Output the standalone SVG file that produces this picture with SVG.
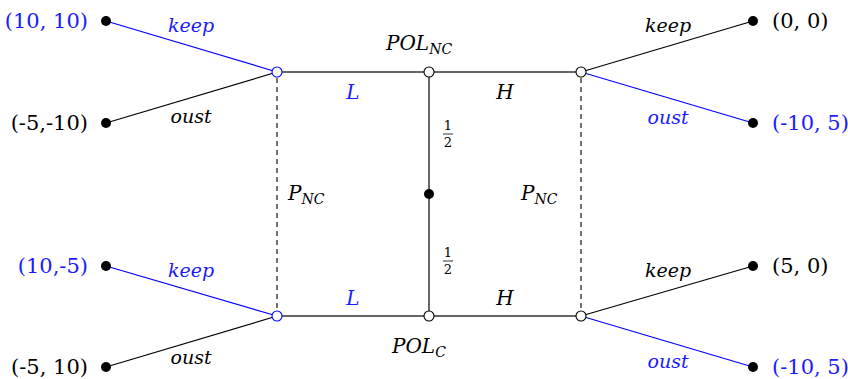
<svg xmlns="http://www.w3.org/2000/svg" width="848" height="379" viewBox="0 0 848 379">
<style>
.e{stroke:#000;stroke-width:1.2;fill:none}
.eb{stroke:#0000ff;stroke-width:1.2;fill:none}
.h{stroke:#333;stroke-width:1.3;fill:none}
.d{stroke:#000;stroke-width:1.1;stroke-dasharray:5,4;fill:none}
.leaf{fill:#000}
.dec{fill:#fff;stroke:#000;stroke-width:1.1}
.decb{fill:#fff;stroke:#0000ff;stroke-width:1.1}
</style>
<g id="connectors">
<line class="eb" x1="106" y1="21" x2="277" y2="72"/>
<line class="e" x1="106" y1="123" x2="277" y2="72"/>
<line class="eb" x1="106" y1="266" x2="277" y2="316"/>
<line class="e" x1="106" y1="367" x2="277" y2="316"/>
<line class="e" x1="753" y1="21" x2="581" y2="72"/>
<line class="eb" x1="753" y1="123" x2="581" y2="72"/>
<line class="e" x1="753" y1="266" x2="581" y2="316"/>
<line class="eb" x1="753" y1="367" x2="581" y2="316"/>
<line class="h" x1="282" y1="72" x2="424" y2="72"/>
<line class="h" x1="434" y1="72" x2="576" y2="72"/>
<line class="h" x1="282" y1="316" x2="424" y2="316"/>
<line class="h" x1="434" y1="316" x2="576" y2="316"/>
<line class="e" x1="429" y1="77" x2="429" y2="311"/>
<line class="d" x1="277" y1="78" x2="277" y2="311"/>
<line class="d" x1="581" y1="78" x2="581" y2="311"/>
</g>
<g id="labels" font-family="'DejaVu Serif', 'Liberation Serif', serif" font-size="19" font-style="italic" text-anchor="middle">
<text fill="#1a1aff" x="191" y="32">keep</text>
<text fill="#000" x="191" y="123">oust</text>
<text fill="#1a1aff" x="191" y="277">keep</text>
<text fill="#000" x="191" y="364">oust</text>
<text fill="#000" x="668" y="32">keep</text>
<text fill="#1a1aff" x="668" y="124">oust</text>
<text fill="#000" x="668" y="277">keep</text>
<text fill="#1a1aff" x="668" y="368">oust</text>
<text fill="#1a1aff" x="353" y="99" font-size="20">L</text>
<text fill="#1a1aff" x="353" y="305" font-size="20">L</text>
<text fill="#000" x="505" y="99" font-size="20">H</text>
<text fill="#000" x="505" y="305" font-size="20">H</text>
</g>
<g id="probs" font-family="'DejaVu Serif', 'Liberation Serif', serif" font-size="13" text-anchor="middle" fill="#000">
<text x="448" y="130">1</text>
<line x1="443" y1="134" x2="453" y2="134" stroke="#000" stroke-width="0.8"/>
<text x="448" y="147">2</text>
<text x="448" y="257">1</text>
<line x1="443" y1="261" x2="453" y2="261" stroke="#000" stroke-width="0.8"/>
<text x="448" y="274">2</text>
</g>
<g font-family="'DejaVu Serif', 'Liberation Serif', serif" font-size="21" fill="#000">
<g id="n_l_top"><circle class="decb" cx="277" cy="72" r="5"/></g>
<g id="n_pol_nc"><circle class="dec" cx="429" cy="72" r="5"/>
<text font-style="italic" x="386" y="50" font-size="20">POL<tspan font-size="14" dy="4">NC</tspan></text></g>
<g id="n_r_top"><circle class="dec" cx="581" cy="72" r="5"/></g>
<g id="n_l_bot"><circle class="decb" cx="277" cy="316" r="5"/></g>
<g id="n_pol_c"><circle class="dec" cx="429" cy="316" r="5"/>
<text font-style="italic" x="392" y="353" font-size="20">POL<tspan font-size="14" dy="4">C</tspan></text></g>
<g id="n_r_bot"><circle class="dec" cx="581" cy="316" r="5"/></g>
<g id="n_chance"><circle class="leaf" cx="429" cy="194" r="5"/></g>
<g id="p_nc_left"><text font-style="italic" x="288" y="200" font-size="20">P<tspan font-size="14" dy="4">NC</tspan></text></g>
<g id="p_nc_right"><text font-style="italic" x="521" y="200" font-size="20">P<tspan font-size="14" dy="4">NC</tspan></text></g>
<g id="leaf1"><circle class="leaf" cx="106" cy="21" r="5"/><text fill="#1a1aff" x="88" y="28" text-anchor="end">(10, 10)</text></g>
<g id="leaf2"><circle class="leaf" cx="106" cy="123" r="5"/><text x="88" y="130" text-anchor="end">(-5,-10)</text></g>
<g id="leaf3"><circle class="leaf" cx="106" cy="266" r="5"/><text fill="#1a1aff" x="88" y="273" text-anchor="end">(10,-5)</text></g>
<g id="leaf4"><circle class="leaf" cx="106" cy="367" r="5"/><text x="88" y="374" text-anchor="end">(-5, 10)</text></g>
<g id="leaf5"><circle class="leaf" cx="753" cy="21" r="5"/><text x="772" y="28">(0, 0)</text></g>
<g id="leaf6"><circle class="leaf" cx="753" cy="123" r="5"/><text fill="#1a1aff" x="772" y="130">(-10, 5)</text></g>
<g id="leaf7"><circle class="leaf" cx="753" cy="266" r="5"/><text x="772" y="273">(5, 0)</text></g>
<g id="leaf8"><circle class="leaf" cx="753" cy="367" r="5"/><text fill="#1a1aff" x="772" y="374">(-10, 5)</text></g>
</g>
</svg>
